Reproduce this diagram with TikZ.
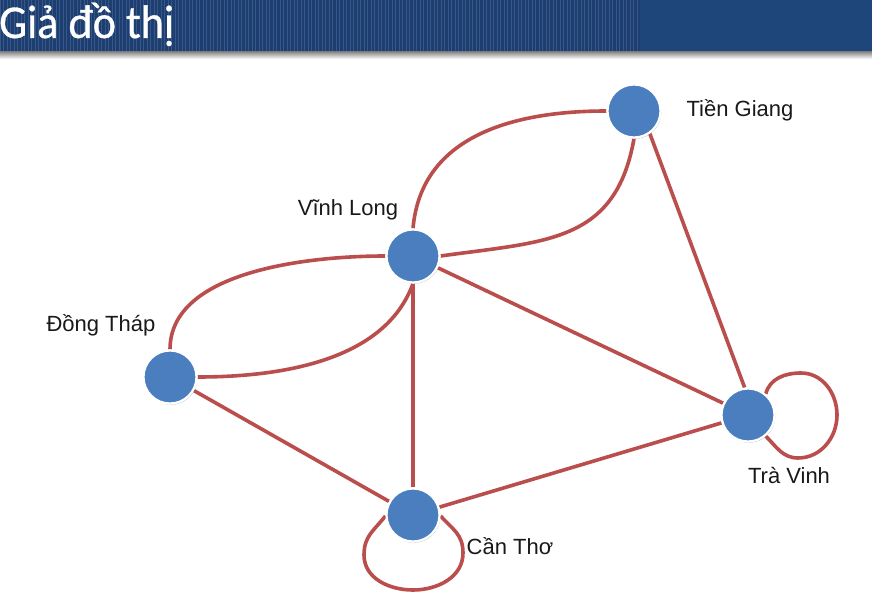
\documentclass[tikz,border=0pt]{standalone}
\usepackage{fontspec}
\setmainfont{Liberation Sans}
\newfontfamily\titlefont{Carlito}[FakeBold=0.7]
\usetikzlibrary{shadows}
\definecolor{edgecol}{RGB}{186,78,76}
\definecolor{nodecol}{RGB}{74,126,190}
\definecolor{barcol}{RGB}{29,62,110}
\definecolor{barcolR}{RGB}{31,70,122}
\definecolor{stripecol}{RGB}{52,88,138}
\begin{document}
\begin{tikzpicture}[x=1pt,y=-1pt,
  vertex/.style={circle, fill=nodecol, draw=white, line width=2.2pt,
    minimum size=53pt, inner sep=0pt,
    drop shadow={opacity=0.35, shadow xshift=0.8pt, shadow yshift=-1.2pt}},
  edge/.style={draw=edgecol, line width=3.6pt},
  lbl/.style={font=\fontsize{22}{26}\selectfont, text=black!90, inner sep=0pt}]
\useasboundingbox (0,0) rectangle (872,601);
\fill[white] (0,0) rectangle (872,601);
% title bar
\fill[barcolR] (0,0) rectangle (872,52);
\fill[barcol] (0,0) rectangle (640,52);
\foreach \i in {0,3.5,...,640} {
  \draw[stripecol, line width=0.7pt] (\i,0) -- (\i,52);
}
\shade[top color=black!45, bottom color=white] (0,52) rectangle (872,59);
\node[anchor=base west, text=white, inner sep=0pt,
  font=\titlefont\fontsize{47}{47}\selectfont] (title) at (-1,38)
  {\scalebox{0.94}[1]{Giả đồ thị}};
% vertices
\node[vertex] (TG) at (634,111) {};
\node[vertex] (VL) at (413,256) {};
\node[vertex] (DT) at (170,377) {};
\node[vertex] (CT) at (413,515) {};
\node[vertex] (TV) at (748,415) {};
% coordinates for loops
\coordinate (cl) at (364,555);
\coordinate (ctb) at (413,590);
\coordinate (cr) at (463,553);
\coordinate (tvt) at (801,373);
\coordinate (tvr) at (837,415);
\coordinate (tvb) at (798,458);
% edges
\draw[edge] (VL.90) to[out=85,in=180,looseness=1.05] (TG.180);
\draw[edge] (VL.0) to[out=8,in=-100,looseness=1.2] (TG.-90);
\draw[edge] (VL.180) to[out=180,in=90,looseness=0.85] (DT.90);
\draw[edge] (VL.-90) to[out=-110,in=0,looseness=0.9] (DT.0);
\draw[edge] (VL) -- (CT);
\draw[edge] (VL) -- (TV);
\draw[edge] (TG.-55) -- (TV.97);
\draw[edge] (DT) -- (CT);
\draw[edge] (CT) -- (TV);
\draw[edge] (CT.182) to[out=232,in=90,looseness=1.1] (cl) to[out=-90,in=180] (ctb)
  to[out=0,in=-90] (cr) to[out=90,in=-48,looseness=1.1] (CT.-2);
\draw[edge] (TV.50) to[out=75,in=180] (tvt) to[out=0,in=90] (tvr)
  to[out=-90,in=0] (tvb) to[out=180,in=-45] (TV.-50);
% redraw vertices on top
\node[vertex] at (TG) {};
\node[vertex] at (VL) {};
\node[vertex] at (DT) {};
\node[vertex] at (CT) {};
\node[vertex] at (TV) {};
% labels
\node[lbl] (lTG) at (740,110) {Tiền Giang};
\node[lbl] (lVL) at (348,210) {Vĩnh Long};
\node[lbl] (lDT) at (101,325) {Đồng Tháp};
\node[lbl] (lCT) at (510,546) {Cần Thơ};
\node[lbl] (lTV) at (789,476) {Trà Vinh};
\end{tikzpicture}
\end{document}
